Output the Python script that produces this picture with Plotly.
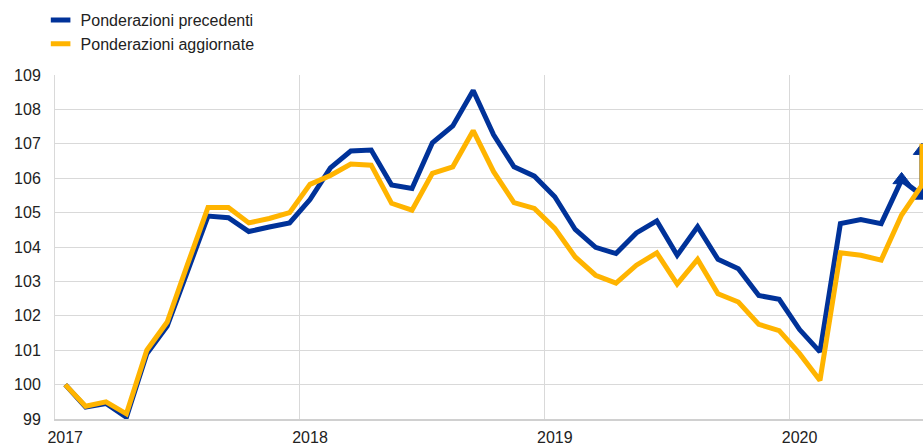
import plotly.graph_objects as go

# Month categories (Jan 2017 .. Jul 2020); the last month is repeated for the final step at the edge
month_labels = [f"{y}-{m:02d}" for y in range(2017, 2021) for m in range(1, 13)][:43]
months = month_labels + ["2020-07"]

precedenti = [100.0, 99.35, 99.45, 99.05, 100.9, 101.7, 103.3, 104.9, 104.85, 104.45, 104.58, 104.7,
              105.38, 106.3, 106.79, 106.82, 105.8, 105.7, 107.03, 107.52, 108.55, 107.26, 106.33, 106.06,
              105.46, 104.51, 103.99, 103.81, 104.41, 104.76, 103.76, 104.59, 103.64, 103.37, 102.59, 102.48,
              101.6, 100.95, 104.68, 104.8, 104.68, 105.95, 105.5, 106.8]

aggiornate = [100.0, 99.37, 99.5, 99.15, 101.0, 101.82, 103.5, 105.15, 105.15, 104.7, 104.83, 105.0,
              105.82, 106.08, 106.41, 106.38, 105.27, 105.07, 106.14, 106.33, 107.38, 106.19, 105.29, 105.12,
              104.54, 103.71, 103.18, 102.95, 103.47, 103.83, 102.92, 103.64, 102.64, 102.4, 101.75, 101.57,
              100.9, 100.12, 103.83, 103.76, 103.62, 104.93, 105.8, 107.0]

series_names = ["Ponderazioni precedenti", "Ponderazioni aggiornate"]
tick_months = ["2017-01", "2018-01", "2019-01", "2020-01"]
tick_labels = ["2017", "2018", "2019", "2020"]
y_ticks = list(range(99, 110))

BLUE = "#003299"
YELLOW = "#FFB400"
FONT = "Liberation Sans, Arial, sans-serif"

# month index on a linear axis (one unit per month)
x_pos = [month_labels.index(m) for m in months]
tick_pos = [month_labels.index(m) for m in tick_months]
boundary_pos = [p - 0.5 for p in tick_pos[1:]]

marker_sizes = [0] * (len(precedenti) - 3) + [15, 15, 15]

fig = go.Figure()
fig.add_trace(go.Scatter(x=x_pos, y=precedenti, mode="lines+markers",
                         line=dict(color=BLUE, width=5),
                         marker=dict(symbol="triangle-up", size=marker_sizes, color=BLUE,
                                     opacity=1, line=dict(color=BLUE, width=1)),
                         showlegend=False))
fig.add_trace(go.Scatter(x=x_pos, y=aggiornate, mode="lines",
                         line=dict(color=YELLOW, width=5), showlegend=False))

# legend keys
for name, col in zip(series_names, [BLUE, YELLOW]):
    fig.add_trace(go.Scatter(x=[None], y=[None], mode="markers", name=name,
                             marker=dict(symbol="line-ew-open", size=14, color=col,
                                         line=dict(color=col, width=5))))

fig.update_layout(
    width=923, height=445,
    margin=dict(l=55, r=0, t=75, b=26, autoexpand=False),
    paper_bgcolor="white", plot_bgcolor="white",
    font=dict(family=FONT, size=16, color="#222222"),
    legend=dict(xref="container", yref="container", x=0.044, y=0.993,
                xanchor="left", yanchor="top", bgcolor="rgba(0,0,0,0)",
                font=dict(size=16, color="#222222"), tracegroupgap=0),
    xaxis=dict(range=[-0.5, 42.05], tickmode="array",
               tickvals=tick_pos, ticktext=tick_labels,
               tickangle=0, automargin=False, showgrid=False, zeroline=False,
               minor=dict(tickmode="array", tickvals=boundary_pos, showgrid=True,
                          gridcolor="#d9d9d9", gridwidth=1, ticks=""),
               showline=True, linecolor="#d0d0d0", linewidth=2,
               ticks="", ticklabelstandoff=3, tickfont=dict(size=16)),
    yaxis=dict(range=[99, 109], tickmode="array", tickvals=y_ticks, automargin=False,
               showgrid=True, gridcolor="#d9d9d9", gridwidth=1,
               showline=True, linecolor="#d9d9d9", linewidth=1,
               zeroline=False, ticks="", ticklabelstandoff=10, tickfont=dict(size=16)),
)

fig.write_html("out.html", config={"displayModeBar": False},
               post_script="document.body.style.margin='0';")
